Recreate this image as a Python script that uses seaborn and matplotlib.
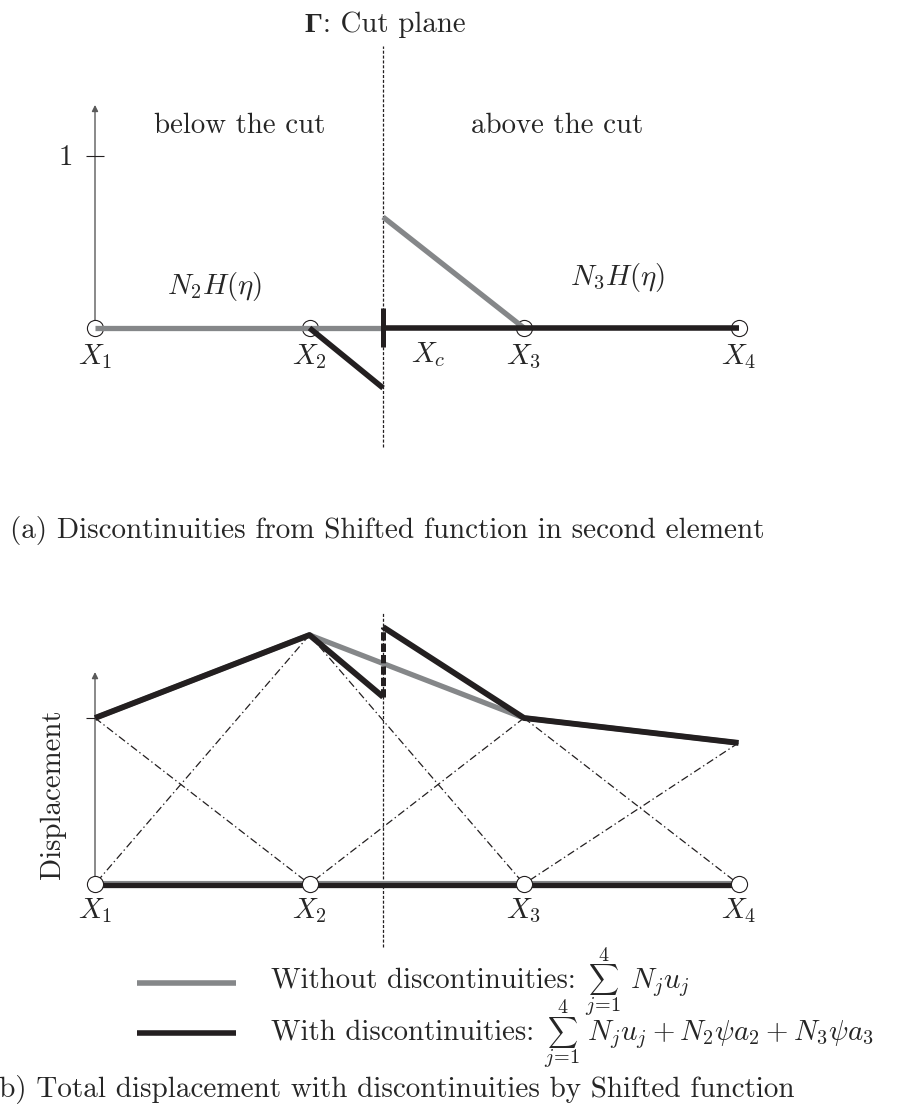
import matplotlib
matplotlib.use("Agg")
import matplotlib.pyplot as plt
import seaborn as sns
import pandas as pd

# ---------------- data ----------------
nodes = [0.0, 1.0, 2.0, 3.0]
node_labels = ["$X_1$", "$X_2$", "$X_3$", "$X_4$"]
xc = 1.343                      # cut position

# (a) shifted enrichment functions
top_grey_x = [0.0, xc, xc, 2.0]
top_grey_y = [0.0, 0.0, 0.645, 0.0]
top_grey_seg = [0, 0, 1, 1]
top_black_x = [1.0, xc, xc, 3.0]
top_black_y = [0.0, -0.349, 0.0, 0.0]
top_black_seg = [0, 0, 1, 1]

# (b) nodal displacements
u = [1.0, 1.5, 1.0, 0.85]
jump_low = 1.127
jump_high = 1.548

legend_text = ["Without discontinuities:", "With discontinuities:"]
legend_math = [r"$N_j u_j$", r"$N_j u_j + N_2\psi a_2 + N_3\psi a_3$"]

GREY = "#858789"
BLACK = "#231f20"

sns.set_theme(style="white")
plt.rcParams["font.family"] = ["cmr10", "DejaVu Sans"]
plt.rcParams["mathtext.fontset"] = "cm"
plt.rcParams["axes.unicode_minus"] = False
plt.rcParams["axes.formatter.use_mathtext"] = True
plt.rcParams["lines.scale_dashes"] = False
plt.rcParams["lines.solid_capstyle"] = "butt"

W, H = 897, 1106
fig = plt.figure(figsize=(W / 100, H / 100), dpi=100)
FS = 20.8

PX = 214.5
X0 = 95.0
xlim = (-X0 / PX, (W - X0) / PX)


def fy(py):
    return 1 - py / H


def fx(px):
    return px / W


# ---------------- top panel ----------------
top_h = 560
ax1 = fig.add_axes([0, 1 - top_h / H, 1, top_h / H])
TS = 172.0
ax1.set_xlim(*xlim)
ax1.set_ylim((328 - top_h) / TS, 328 / TS)
ax1.set_axis_off()

# cut line
ax1.plot([xc, xc], [-0.69, 1.64], color=BLACK, lw=0.9, ls=(0, (2.2, 1.3)), zorder=1)
# vertical axis arrow
ax1.annotate("", xy=(0, 1.297), xytext=(0, 0),
             arrowprops=dict(arrowstyle="-|>", color="#5a5a5a", lw=1.0,
                             mutation_scale=9, shrinkA=0, shrinkB=0), zorder=1)
ax1.plot([-0.04, 0.04], [1, 1], color=BLACK, lw=0.8, zorder=1)
ax1.text(-0.135, 0.948, "1", fontsize=FS, ha="center", va="baseline")

sns.scatterplot(x=nodes, y=[0] * 4, s=135, facecolor="white", edgecolor=BLACK,
                linewidth=0.8, ax=ax1, zorder=2, legend=False)

dg = pd.DataFrame({"x": top_grey_x, "y": top_grey_y, "seg": top_grey_seg})
sns.lineplot(data=dg, x="x", y="y", units="seg", estimator=None, sort=False,
             color=GREY, lw=3.8, ax=ax1, zorder=3, legend=False)
db = pd.DataFrame({"x": top_black_x, "y": top_black_y, "seg": top_black_seg})
sns.lineplot(data=db, x="x", y="y", units="seg", estimator=None, sort=False,
             color=BLACK, lw=4.0, ax=ax1, zorder=4, legend=False)
ax1.plot([xc, xc], [-0.11, 0.116], color=BLACK, lw=3.6, zorder=5)

for xn, lab in zip(nodes, node_labels):
    ax1.text(xn, -0.209, lab, fontsize=FS, ha="center", va="baseline")
ax1.text(1.552, -0.198, "$X_c$", fontsize=FS, ha="center", va="baseline")
# title: bold Gamma + text
fig.text(fx(305), fy(32), "\u0393", fontsize=FS - 0.5, fontweight="bold",
         family=["Liberation Serif", "DejaVu Serif"], ha="left", va="baseline")
fig.text(fx(323), fy(32), ": Cut plane", fontsize=FS, ha="left", va="baseline")
ax1.text(0.676, 1.134, "below the cut", fontsize=FS, ha="center", va="baseline")
ax1.text(2.154, 1.134, "above the cut", fontsize=FS, ha="center", va="baseline")
ax1.text(0.559, 0.198, r"$N_2H(\eta)$", fontsize=FS, ha="center", va="baseline")
ax1.text(2.434, 0.250, r"$N_3H(\eta)$", fontsize=FS, ha="center", va="baseline")

# ---------------- bottom panel ----------------
ax2 = fig.add_axes([0, 0, 1, 1 - top_h / H])
BS = 166.0
ax2.set_xlim(*xlim)
ax2.set_ylim((884 - H) / BS, (884 - top_h) / BS)
ax2.set_axis_off()

ax2.plot([xc, xc], [-0.38, 1.633], color=BLACK, lw=0.9, ls=(0, (2.2, 1.3)), zorder=1)
ax2.annotate("", xy=(0, 1.277), xytext=(0, 0),
             arrowprops=dict(arrowstyle="-|>", color="#5a5a5a", lw=1.0,
                             mutation_scale=9, shrinkA=0, shrinkB=0), zorder=1)
ax2.plot([-0.04, 0], [u[0], u[0]], color=BLACK, lw=0.8, zorder=1)

# shape-function contributions N_j u_j (dash-dot)
sx, sy, sseg = [], [], []
for j in range(4):
    for k in (j - 1, j + 1):
        if 0 <= k < 4:
            sx += [nodes[j], nodes[k]]
            sy += [u[j], 0.0]
            sseg += [len(sseg) // 2] * 2
ds = pd.DataFrame({"x": sx, "y": sy, "seg": sseg})
sns.lineplot(data=ds, x="x", y="y", units="seg", estimator=None, sort=False,
             color=BLACK, lw=0.9, ls=(0, (5.5, 2.2, 1.0, 2.2)), ax=ax2,
             zorder=2, legend=False)

# without discontinuities
sns.lineplot(x=nodes, y=u, color=GREY, lw=3.8, ax=ax2, zorder=3, estimator=None,
             sort=False)
# with discontinuities
sns.lineplot(x=[nodes[0], nodes[1], xc], y=[u[0], u[1], jump_low], color=BLACK,
             lw=4.2, ax=ax2, zorder=4, estimator=None, sort=False)
sns.lineplot(x=[xc, nodes[2], nodes[3]], y=[jump_high, u[2], u[3]], color=BLACK,
             lw=4.2, ax=ax2, zorder=4, estimator=None, sort=False)
ax2.plot([xc, xc], [jump_low, jump_high], color=BLACK, lw=3.6,
         ls=(0, (6.0, 2.2)), zorder=4)

# element baseline
sns.lineplot(x=[nodes[0], nodes[3]], y=[0, 0], color=GREY, lw=4.4, ax=ax2, zorder=3)
ax2.plot([nodes[0], nodes[3]], [-0.004, -0.004], color=BLACK, lw=3.8, zorder=3.5)
sns.scatterplot(x=nodes, y=[0] * 4, s=135, facecolor="white", edgecolor=BLACK,
                linewidth=0.8, ax=ax2, zorder=6, legend=False)

for xn, lab in zip(nodes, node_labels):
    ax2.text(xn, -0.205, lab, fontsize=FS, ha="center", va="baseline")
ax2.text(-0.196, 0.542, "Displacement", fontsize=FS, rotation=90,
         ha="center", va="center")

# legend (manual): line key, text, summation with limits, math term
LFS = 20.8
rows = [
    # colour, key y, baseline, sum centre x, math left x
    (GREY, 983, 988, 603, 630),
    (BLACK, 1033, 1040, 562, 587),
]
for (col, ly, by, sxp, mx), txt, mth in zip(rows, legend_text, legend_math):
    fig.add_artist(plt.Line2D([fx(137), fx(236)], [fy(ly), fy(ly)], color=col,
                              lw=4.0, transform=fig.transFigure))
    fig.text(fx(271), fy(by), txt, fontsize=LFS, ha="left", va="baseline")
    fig.text(fx(sxp), fy(by - 8), r"$\sum$", fontsize=15, ha="center", va="center")
    fig.text(fx(sxp), fy(by - 32), "4", fontsize=14.5, ha="center", va="center")
    fig.text(fx(sxp), fy(by + 18), r"$j\!=\!1$", fontsize=14.5, ha="center",
             va="center")
    fig.text(fx(mx), fy(by), mth, fontsize=FS, ha="left", va="baseline")

fig.text(fx(10), fy(538), "(a) Discontinuities from Shifted function in second element",
         fontsize=FS + 0.2, ha="left", va="baseline")
fig.text(fx(-12), fy(1097), "(b) Total displacement with discontinuities by Shifted function",
         fontsize=FS + 0.2, ha="left", va="baseline")

fig.savefig("out.png", dpi=100, facecolor="white")
